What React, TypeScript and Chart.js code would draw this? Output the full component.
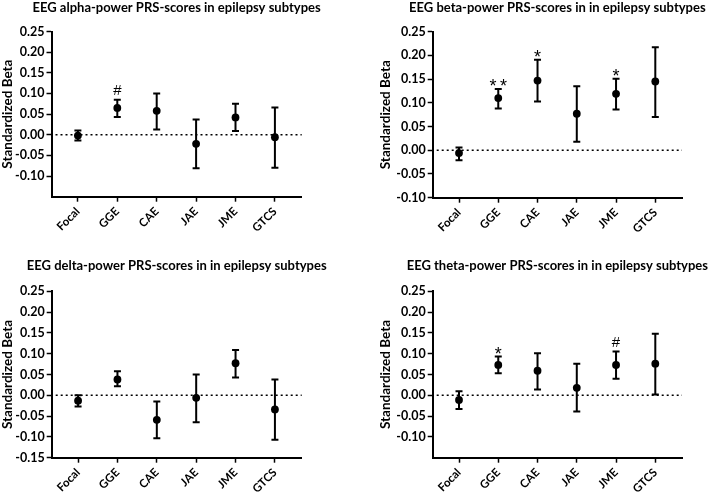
import React, { useEffect, useRef } from "react";
import { Chart, registerables } from "chart.js";

Chart.register(...registerables);

const categories = ["Focal", "GGE", "CAE", "JAE", "JME", "GTCS"];

const alphaMean = [-0.002, 0.065, 0.058, -0.022, 0.042, -0.006];
const alphaLow = [-0.014, 0.043, 0.013, -0.081, 0.009, -0.08];
const alphaHigh = [0.01, 0.085, 0.1, 0.037, 0.075, 0.066];
const alphaMarks = ["", "#", "", "", "", ""];

const betaMean = [-0.006, 0.11, 0.147, 0.077, 0.119, 0.145];
const betaLow = [-0.021, 0.088, 0.103, 0.018, 0.086, 0.07];
const betaHigh = [0.006, 0.129, 0.191, 0.135, 0.151, 0.217];
const betaMarks = ["", "**", "*", "", "*", ""];

const deltaMean = [-0.013, 0.038, -0.059, -0.006, 0.077, -0.034];
const deltaLow = [-0.027, 0.022, -0.103, -0.065, 0.043, -0.107];
const deltaHigh = [0.0, 0.058, -0.015, 0.05, 0.109, 0.038];
const deltaMarks = ["", "", "", "", "", ""];

const thetaMean = [-0.011, 0.073, 0.059, 0.018, 0.073, 0.076];
const thetaLow = [-0.033, 0.053, 0.014, -0.039, 0.04, 0.002];
const thetaHigh = [0.01, 0.093, 0.101, 0.076, 0.105, 0.148];
const thetaMarks = ["", "*", "", "", "#", ""];

const ticksToMinus10 = [-0.1, -0.05, 0, 0.05, 0.1, 0.15, 0.2, 0.25];
const ticksToMinus15 = [-0.15, -0.1, -0.05, 0, 0.05, 0.1, 0.15, 0.2, 0.25];

const yTitle = "Standardized Beta";
const FONT = "Lato, 'Open Sans', sans-serif";

type Panel = {
  title: string;
  mean: number[];
  low: number[];
  high: number[];
  marks: string[];
  yMin: number;
  yTicks: number[];
  left: number;
  top: number;
  width: number;
  height: number;
  area: { l: number; r: number; t: number; b: number };
  titleY: number;
  yTitlePad: number;
};

const panels: Panel[] = [
  {
    title: "EEG alpha-power PRS-scores in epilepsy subtypes",
    mean: alphaMean, low: alphaLow, high: alphaHigh, marks: alphaMarks,
    yMin: -0.15, yTicks: ticksToMinus10,
    left: 0, top: 0, width: 354, height: 246,
    area: { l: 51.5, r: 301.7, t: 31.5, b: 196.7 },
    titleY: 7.5, yTitlePad: 0,
  },
  {
    title: "EEG beta-power PRS-scores in in epilepsy subtypes",
    mean: betaMean, low: betaLow, high: betaHigh, marks: betaMarks,
    yMin: -0.1, yTicks: ticksToMinus10,
    left: 354, top: 0, width: 355, height: 246,
    area: { l: 78.7, r: 328, t: 31.7, b: 197.7 },
    titleY: 7.5, yTitlePad: 24,
  },
  {
    title: "EEG delta-power PRS-scores in in epilepsy subtypes",
    mean: deltaMean, low: deltaLow, high: deltaHigh, marks: deltaMarks,
    yMin: -0.15, yTicks: ticksToMinus15,
    left: 0, top: 246, width: 354, height: 246,
    area: { l: 51.7, r: 301.7, t: 45.3, b: 211.7 },
    titleY: 19.5, yTitlePad: 0,
  },
  {
    title: "EEG theta-power PRS-scores in in epilepsy subtypes",
    mean: thetaMean, low: thetaLow, high: thetaHigh, marks: thetaMarks,
    yMin: -0.15, yTicks: ticksToMinus10,
    left: 354, top: 246, width: 355, height: 246,
    area: { l: 78.7, r: 328, t: 45.3, b: 211.7 },
    titleY: 19.5, yTitlePad: 24,
  },
];

function makePlugin(p: Panel) {
  return {
    id: "errorBarsAndMarks",
    beforeDatasetsDraw(chart: any) {
      const { ctx, chartArea, scales } = chart;
      const x = scales.x;
      const y = scales.y;
      ctx.save();
      ctx.strokeStyle = "#000";
      ctx.lineWidth = 1.6;
      ctx.setLineDash([2, 3]);
      const y0 = y.getPixelForValue(0);
      ctx.beginPath();
      ctx.moveTo(chartArea.left + 4, y0);
      ctx.lineTo(chartArea.right, y0);
      ctx.stroke();
      ctx.setLineDash([]);
      ctx.lineWidth = 2;
      p.low.forEach((lo, i) => {
        const xp = x.getPixelForValue(i);
        const yl = y.getPixelForValue(lo);
        const yh = y.getPixelForValue(p.high[i]);
        ctx.beginPath();
        ctx.moveTo(xp, yl);
        ctx.lineTo(xp, yh);
        ctx.moveTo(xp - 3.5, yl);
        ctx.lineTo(xp + 3.5, yl);
        ctx.moveTo(xp - 3.5, yh);
        ctx.lineTo(xp + 3.5, yh);
        ctx.stroke();
      });
      ctx.restore();
    },
    afterDraw(chart: any) {
      const { ctx, chartArea, scales } = chart;
      const x = scales.x;
      const y = scales.y;
      ctx.save();
      ctx.fillStyle = "#000";
      ctx.textAlign = "center";
      p.marks.forEach((m, i) => {
        if (!m) return;
        const xp = x.getPixelForValue(i);
        const yh = y.getPixelForValue(p.high[i]);
        const isHash = m.includes("#");
        ctx.font = isHash ? "15px 'Liberation Sans', sans-serif" : "18px 'Liberation Sans', sans-serif";
        const txt = isHash ? m : m.split("").join("\u2009");
        const mt = ctx.measureText(txt);
        const center = yh - (isHash ? 10 : 6.5);
        const base = center + (mt.actualBoundingBoxAscent - mt.actualBoundingBoxDescent) / 2;
        ctx.textBaseline = "alphabetic";
        ctx.fillText(txt, xp, base);
      });
      ctx.font = `bold 13px ${FONT}`;
      ctx.textBaseline = "middle";
      ctx.fillText(p.title, (chartArea.left + chartArea.right) / 2, p.titleY);
      ctx.restore();
    },
  };
}

function PanelChart({ p }: { p: Panel }) {
  const ref = useRef<HTMLCanvasElement | null>(null);
  useEffect(() => {
    if (!ref.current) return;
    const chart = new Chart(ref.current, {
      type: "scatter",
      data: {
        datasets: [
          {
            data: p.mean.map((v, i) => ({ x: i, y: v })),
            backgroundColor: "#000",
            borderColor: "#000",
            pointRadius: 3.9,
            pointBorderWidth: 0,
          },
        ],
      },
      options: {
        animation: false,
        responsive: false,
        events: [],
        layout: {
          padding: { left: 0, top: p.area.t, right: p.width - p.area.r, bottom: 0 },
        },
        plugins: {
          legend: { display: false },
          tooltip: { enabled: false },
          title: { display: false },
        },
        scales: {
          x: {
            type: "linear",
            min: -0.67,
            max: 5.68,
            afterBuildTicks: (s: any) => {
              s.ticks = categories.map((_, i) => ({ value: i }));
            },
            afterFit: (s: any) => {
              s.height = p.height - p.area.b;
            },
            grid: {
              drawOnChartArea: false,
              drawTicks: true,
              tickLength: 5,
              tickWidth: 1.5,
              tickColor: "#000",
            },
            border: { display: true, color: "#000", width: 2 },
            ticks: {
              autoSkip: false,
              minRotation: 45,
              maxRotation: 45,
              padding: 3,
              color: "#000",
              font: { family: FONT, size: 11.5, weight: "bold" },
              callback: (v: any) => categories[v] ?? "",
            },
          },
          y: {
            type: "linear",
            min: p.yMin,
            max: 0.25,
            afterBuildTicks: (s: any) => {
              s.ticks = p.yTicks.map((v) => ({ value: v }));
            },
            afterFit: (s: any) => {
              s.width = p.area.l;
            },
            grid: {
              drawOnChartArea: false,
              drawTicks: true,
              tickLength: 5,
              tickWidth: 1.5,
              tickColor: "#000",
            },
            border: { display: true, color: "#000", width: 2 },
            ticks: {
              padding: 2,
              color: "#000",
              font: { family: FONT, size: 12.5, weight: "bold" },
              callback: (v: any) => Number(v).toFixed(2),
            },
            title: {
              display: true,
              text: yTitle,
              color: "#000",
              padding: { top: p.yTitlePad, bottom: 0 },
              font: { family: FONT, size: 13.5, weight: "bold" },
            },
          },
        },
      },
      plugins: [makePlugin(p)],
    } as any);
    return () => chart.destroy();
  }, [p]);
  return (
    <canvas
      ref={ref}
      width={p.width}
      height={p.height}
      style={{
        position: "absolute",
        left: p.left,
        top: p.top,
        width: p.width,
        height: p.height,
      }}
    />
  );
}

export default function App() {
  return (
    <div
      style={{
        position: "absolute",
        left: 0,
        top: 0,
        width: 709,
        height: 492,
        background: "#fff",
        overflow: "hidden",
      }}
    >
      {panels.map((p, i) => (
        <PanelChart key={i} p={p} />
      ))}
    </div>
  );
}
